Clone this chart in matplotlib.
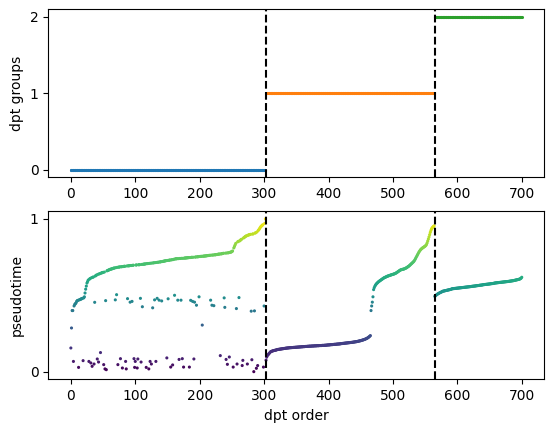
import numpy as np
import matplotlib
matplotlib.use("Agg")
import matplotlib.pyplot as plt

# cells per dpt group and where each new group begins
group_sizes = [303, 262, 136]
changepoints = [303, 565]

# group 0: the main rising branch (filled into every index not listed below)
curve0 = [
    0.40, 0.40, 0.43, 0.44, 0.445, 0.45, 0.46, 0.465, 0.467, 0.47, 0.472, 0.474,
    0.476, 0.478, 0.48, 0.483, 0.49, 0.515,
    0.54, 0.56, 0.58, 0.59, 0.60, 0.606, 0.61,
    0.615, 0.618, 0.62, 0.626, 0.63, 0.633, 0.637, 0.64, 0.642, 0.645, 0.647, 0.649, 0.65,
    0.652, 0.66, 0.662, 0.664, 0.666, 0.668, 0.67, 0.671, 0.672, 0.674, 0.675, 0.677,
    0.678, 0.679, 0.681, 0.683,
    0.684, 0.685, 0.686, 0.687, 0.687, 0.688, 0.689, 0.69, 0.69, 0.692, 0.693, 0.693,
    0.694, 0.695, 0.695, 0.696, 0.697, 0.698, 0.699, 0.70, 0.70, 0.701, 0.702, 0.703,
    0.704, 0.704, 0.705, 0.706, 0.707,
    0.708, 0.708, 0.709, 0.71, 0.711, 0.712, 0.713, 0.714, 0.715, 0.716, 0.717, 0.718,
    0.719, 0.72, 0.721, 0.722, 0.723, 0.724, 0.725, 0.726, 0.727, 0.728, 0.729, 0.73,
    0.731, 0.732, 0.733, 0.734, 0.736,
    0.738, 0.739, 0.739, 0.74, 0.74, 0.741, 0.741, 0.742, 0.742, 0.743, 0.744, 0.744,
    0.745, 0.745, 0.746, 0.746, 0.747, 0.747, 0.748, 0.749, 0.749, 0.75, 0.751, 0.752,
    0.752, 0.753, 0.754,
    0.754, 0.755, 0.755, 0.756, 0.756, 0.757, 0.757, 0.758, 0.758, 0.759,
    0.76, 0.76, 0.761, 0.761, 0.762, 0.763, 0.763, 0.764, 0.765, 0.765,
    0.766, 0.767, 0.767, 0.768, 0.769, 0.77, 0.77, 0.771, 0.772, 0.773,
    0.774, 0.775, 0.776, 0.777, 0.778, 0.779, 0.781, 0.782, 0.784, 0.786,
    0.79, 0.81, 0.82, 0.83, 0.84, 0.85, 0.853, 0.856, 0.86, 0.864, 0.867, 0.875,
    0.878, 0.882, 0.885, 0.888, 0.89, 0.893, 0.895, 0.897, 0.898, 0.899, 0.901, 0.902,
    0.907, 0.91, 0.915, 0.925, 0.93, 0.937, 0.944, 0.95, 0.954, 0.958, 0.962, 0.971, 1.0,
]

# group 0: scattered low cells
low_idx = [0, 1, 4, 12, 19, 28, 31, 33, 36, 41, 43, 46, 51, 53, 55, 73, 77, 80, 85, 86,
           98, 99, 100, 103, 104, 109, 117, 121, 123, 125, 132, 149, 155, 158, 168, 173,
           175, 184, 191, 232, 241, 243, 246, 252, 258, 266, 267, 274, 281, 284, 288, 290, 299]
low_val = [0.155, 0.286, 0.067, 0.028, 0.072, 0.067, 0.057, 0.035, 0.05, 0.083, 0.063, 0.125,
           0.046, 0.018, 0.013, 0.046, 0.085, 0.024, 0.067, 0.018, 0.085, 0.028, 0.067, 0.024,
           0.083, 0.063, 0.028, 0.018, 0.067, 0.05, 0.067, 0.09, 0.03, 0.044, 0.08, 0.085,
           0.03, 0.03, 0.083, 0.105, 0.08, 0.048, 0.096, 0.03, 0.05, 0.04, 0.074, 0.05,
           0.078, 0.0, 0.022, 0.04, 0.03]

# group 0: scattered mid cells
mid_idx = [37, 54, 69, 71, 88, 92, 95, 108, 111, 127, 130, 134, 137, 141, 151, 161, 166,
           171, 186, 189, 192, 195, 199, 204, 217, 219, 222, 238, 239, 257, 261, 280, 285, 300]
mid_val = [0.454, 0.465, 0.47, 0.504, 0.478, 0.455, 0.46, 0.48, 0.425, 0.418, 0.47, 0.48,
           0.468, 0.463, 0.477, 0.5, 0.468, 0.468, 0.467, 0.46, 0.455, 0.435, 0.49, 0.305,
           0.468, 0.435, 0.432, 0.483, 0.421, 0.413, 0.485, 0.396, 0.398, 0.43]

# group 1
curve1 = [
    0.075, 0.095, 0.105, 0.11, 0.115, 0.12, 0.125, 0.13,
    0.132, 0.134, 0.135, 0.137, 0.138, 0.139, 0.14, 0.141, 0.142, 0.144,
    0.145, 0.146, 0.146, 0.147, 0.148, 0.148, 0.149, 0.15, 0.15, 0.151, 0.152, 0.152,
    0.153, 0.154, 0.154, 0.155,
    0.155, 0.156, 0.156, 0.157, 0.157, 0.157, 0.158, 0.158, 0.158, 0.159, 0.159, 0.159,
    0.16, 0.16, 0.16, 0.161, 0.161, 0.161, 0.162, 0.162, 0.162, 0.163, 0.163, 0.163,
    0.164, 0.164, 0.164, 0.165, 0.165, 0.165, 0.166,
    0.166, 0.166, 0.167, 0.167, 0.167, 0.167, 0.168, 0.168, 0.168, 0.168, 0.169, 0.169,
    0.169, 0.169, 0.17, 0.17, 0.17, 0.17, 0.171, 0.171, 0.171, 0.171, 0.172, 0.172,
    0.172, 0.172,
    0.173, 0.173, 0.173, 0.174, 0.174, 0.175, 0.175, 0.175, 0.176, 0.176, 0.177, 0.177,
    0.177, 0.178, 0.178, 0.179, 0.179, 0.179, 0.18, 0.18, 0.181, 0.181, 0.181, 0.182,
    0.182, 0.183,
    0.184, 0.184, 0.185, 0.185, 0.186, 0.186, 0.187, 0.187, 0.188, 0.188, 0.189, 0.189,
    0.19, 0.19, 0.191, 0.191, 0.192, 0.192, 0.193, 0.194, 0.194, 0.195, 0.196, 0.196,
    0.197, 0.198,
    0.199, 0.2, 0.201, 0.202, 0.203, 0.204, 0.206, 0.207, 0.208, 0.21, 0.211, 0.213,
    0.215, 0.217, 0.219,
    0.222, 0.225, 0.228, 0.232, 0.236,
    0.40, 0.43, 0.455, 0.49,
    0.537, 0.55, 0.56, 0.567, 0.573, 0.578, 0.582, 0.586, 0.59, 0.593, 0.596, 0.599,
    0.602, 0.605, 0.608, 0.611, 0.614, 0.616, 0.618, 0.62, 0.622, 0.624, 0.626, 0.627,
    0.629, 0.63, 0.632, 0.633, 0.635, 0.636, 0.637, 0.639, 0.64, 0.642, 0.644, 0.646,
    0.649, 0.652, 0.655, 0.658, 0.661, 0.664, 0.666, 0.668, 0.669, 0.67, 0.671, 0.672,
    0.674, 0.676, 0.678, 0.68, 0.683, 0.686, 0.689, 0.692, 0.696, 0.70, 0.704, 0.708,
    0.712, 0.716, 0.72, 0.725, 0.732, 0.74, 0.748, 0.756, 0.764, 0.772, 0.78, 0.787,
    0.793, 0.799, 0.803, 0.807, 0.81, 0.813, 0.816, 0.819, 0.822, 0.826, 0.832, 0.842,
    0.855, 0.868, 0.882, 0.897, 0.912, 0.925, 0.935, 0.942, 0.947, 0.951, 0.955,
]

# group 2
curve2 = [
    0.493, 0.497, 0.501, 0.504, 0.507, 0.51, 0.512, 0.515, 0.517, 0.519, 0.521, 0.523, 0.526,
    0.527, 0.528, 0.529, 0.53, 0.531, 0.532, 0.533, 0.534, 0.535, 0.536, 0.537, 0.538,
    0.539, 0.541, 0.543,
    0.543, 0.544, 0.544, 0.545, 0.545, 0.546, 0.546, 0.547, 0.547, 0.548, 0.548, 0.549,
    0.549, 0.55, 0.55, 0.551, 0.551, 0.552, 0.552, 0.553, 0.553, 0.554, 0.554, 0.555,
    0.555, 0.556, 0.556, 0.557, 0.557, 0.558, 0.559,
    0.559, 0.56, 0.56, 0.561, 0.561, 0.562, 0.563, 0.563, 0.564, 0.564, 0.565, 0.566,
    0.566, 0.567, 0.567, 0.568, 0.569, 0.57, 0.57, 0.571, 0.571, 0.572, 0.572, 0.573,
    0.573, 0.574, 0.574, 0.575, 0.576, 0.576, 0.577, 0.577, 0.578, 0.579, 0.58, 0.581,
    0.581, 0.582, 0.582, 0.583, 0.583, 0.584, 0.584, 0.585, 0.585, 0.586, 0.586, 0.587,
    0.587, 0.588, 0.588, 0.589, 0.589, 0.59, 0.59, 0.591, 0.591, 0.592, 0.593, 0.593,
    0.594, 0.595, 0.595, 0.596, 0.597, 0.598, 0.599, 0.6, 0.601, 0.602,
    0.603, 0.604, 0.605, 0.607, 0.609, 0.612, 0.618,
]

# assemble per-cell arrays
pt0 = np.full(group_sizes[0], np.nan)
pt0[low_idx] = low_val
pt0[mid_idx] = mid_val
pt0[np.isnan(pt0)] = curve0
pseudotime = np.concatenate([pt0, curve1, curve2])
groups = np.repeat(np.arange(len(group_sizes)), group_sizes)
order = np.arange(len(pseudotime))

fig = plt.figure(figsize=(5.54, 4.32), dpi=100)
ax1 = fig.add_axes([0.0872, 0.5896, 0.8953, 0.3889])
ax2 = fig.add_axes([0.0872, 0.1220, 0.8953, 0.3889])

palette = plt.rcParams['axes.prop_cycle'].by_key()['color']
msize = plt.rcParams['lines.markersize']

# top: dpt groups
for g in range(len(group_sizes)):
    m = groups == g
    ax1.scatter(order[m], groups[m], marker='.', edgecolor='face', s=msize, c=palette[g])

# bottom: pseudotime
ax2.scatter(order, pseudotime, c=pseudotime, cmap='viridis', marker='.',
            edgecolor='face', s=msize)

for ax in (ax1, ax2):
    ylim = ax.get_ylim()
    for h in changepoints:
        ax.plot([h, h], [ylim[0], ylim[1]], '--', color='black')
    ax.set_ylim(ylim)

ax1.set_ylabel('dpt groups')
ax1.set_yticks([0, 1, 2])
ax2.set_ylabel('pseudotime')
ax2.set_xlabel('dpt order')
ax2.set_yticks([0, 1])

fig.savefig('out.png', dpi=100)
